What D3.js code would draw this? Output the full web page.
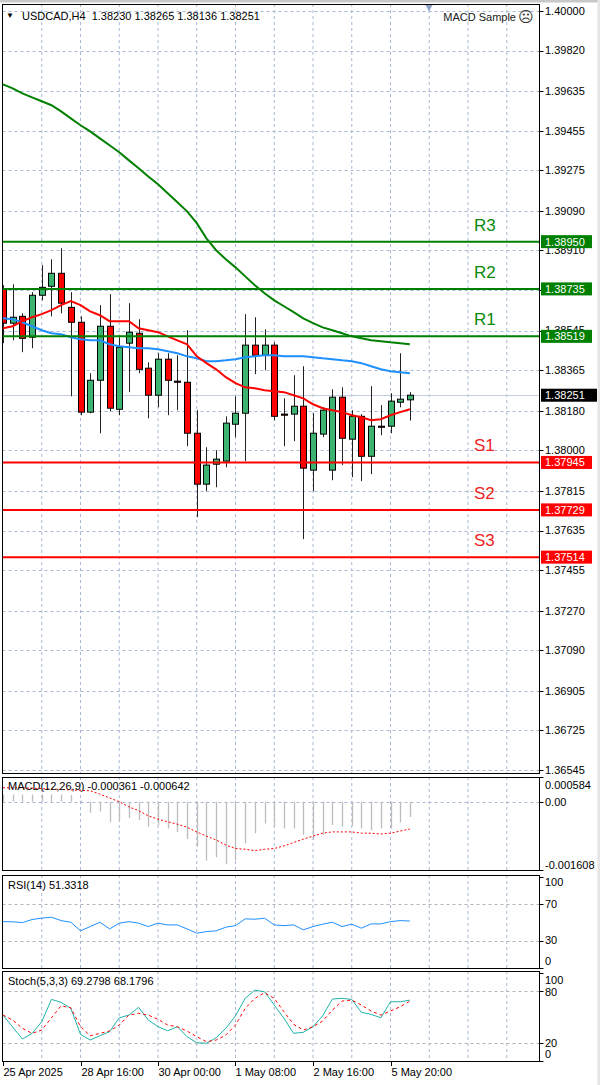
<!DOCTYPE html>
<html><head><meta charset="utf-8">
<script src="https://cdn.jsdelivr.net/npm/d3@7"></script>
<style>
html,body{margin:0;padding:0;background:#fff;}
svg{display:block;}
text{font-family:"Liberation Sans",Arial,sans-serif;}
</style></head><body>
<svg id="c" width="600" height="1085"></svg>
<script>
// ---------- DATA ----------
const symbolTitle = "USDCAD,H4  1.38230 1.38265 1.38136 1.38251";
const expertName = "MACD Sample";
const dateLabels = ["25 Apr 2025","28 Apr 16:00","30 Apr 00:00","1 May 08:00","2 May 16:00","5 May 20:00"];
const dateLabelIdx = [0,8,16,24,32,40];
const priceTicks = [1.40000,1.39820,1.39635,1.39455,1.39275,1.39090,1.38910,1.38730,1.38545,1.38365,1.38180,1.38000,1.37815,1.37635,1.37455,1.37270,1.37090,1.36905,1.36725,1.36545];
const lastPrice = 1.38251;
const levelNames = ["R3","R2","R1","S1","S2","S3"];
const levelValues = [1.38950,1.38735,1.38519,1.37945,1.37729,1.37514];
const levelKinds = ["r","r","r","s","s","s"];

const opens  = [1.38733,1.38579,1.38610,1.38515,1.38706,1.38747,1.38806,1.38651,1.38583,1.38174,1.38319,1.38565,1.38187,1.38488,1.38533,1.38374,1.38251,1.38415,1.38315,1.38310,1.38078,1.37846,1.37937,1.37951,1.38119,1.38169,1.38479,1.38433,1.38479,1.38165,1.38165,1.38201,1.37910,1.38074,1.37910,1.38242,1.38051,1.38155,1.37973,1.38110,1.38110,1.38219,1.38230];
const highs  = [1.38752,1.38756,1.38624,1.38720,1.38843,1.38870,1.38920,1.38720,1.38610,1.38351,1.38661,1.38711,1.38515,1.38670,1.38597,1.38401,1.38442,1.38442,1.38433,1.38547,1.38183,1.38014,1.38001,1.38155,1.38246,1.38620,1.38606,1.38551,1.38492,1.38237,1.38342,1.38383,1.38169,1.38196,1.38278,1.38287,1.38183,1.38165,1.38292,1.38206,1.38260,1.38442,1.38265];
const lows   = [1.38488,1.38501,1.38447,1.38465,1.38683,1.38610,1.38624,1.38246,1.38160,1.38169,1.38078,1.38178,1.38160,1.38265,1.38351,1.38146,1.38196,1.38160,1.38183,1.38019,1.37696,1.37814,1.37832,1.37923,1.38060,1.37951,1.38347,1.38365,1.38137,1.38019,1.38042,1.37596,1.37814,1.38060,1.37864,1.37933,1.37878,1.37860,1.37892,1.38069,1.38078,1.38196,1.38136];
const closes = [1.38579,1.38606,1.38510,1.38706,1.38742,1.38806,1.38670,1.38583,1.38174,1.38319,1.38565,1.38192,1.38469,1.38538,1.38369,1.38251,1.38415,1.38319,1.38310,1.38078,1.37846,1.37933,1.37960,1.38124,1.38169,1.38479,1.38433,1.38479,1.38155,1.38160,1.38201,1.37919,1.38078,1.38183,1.38242,1.38055,1.38155,1.37973,1.38110,1.38105,1.38224,1.38233,1.38251];

const maSlow = [1.39666,1.39648,1.39625,1.39607,1.39589,1.39571,1.39543,1.39511,1.39480,1.39452,1.39420,1.39389,1.39357,1.39320,1.39284,1.39247,1.39211,1.39170,1.39129,1.39088,1.39034,1.38965,1.38911,1.38870,1.38833,1.38792,1.38752,1.38715,1.38683,1.38656,1.38629,1.38601,1.38579,1.38560,1.38547,1.38533,1.38519,1.38510,1.38501,1.38497,1.38492,1.38488,1.38483];
const maMid  = [1.38601,1.38597,1.38583,1.38565,1.38547,1.38533,1.38529,1.38515,1.38506,1.38501,1.38501,1.38483,1.38474,1.38469,1.38465,1.38465,1.38460,1.38451,1.38442,1.38428,1.38419,1.38406,1.38406,1.38410,1.38415,1.38424,1.38428,1.38433,1.38433,1.38428,1.38428,1.38428,1.38424,1.38419,1.38415,1.38410,1.38406,1.38397,1.38383,1.38369,1.38360,1.38356,1.38351];
const maFast = [1.38556,1.38565,1.38588,1.38606,1.38620,1.38638,1.38661,1.38679,1.38661,1.38633,1.38615,1.38588,1.38588,1.38588,1.38556,1.38547,1.38538,1.38519,1.38501,1.38483,1.38428,1.38397,1.38369,1.38333,1.38306,1.38287,1.38283,1.38274,1.38269,1.38265,1.38251,1.38237,1.38210,1.38192,1.38183,1.38174,1.38160,1.38151,1.38137,1.38142,1.38160,1.38174,1.38187];

const macdLabel = "MACD(12,26,9) -0.000361 -0.000642";
const macdTicks = [0.000584, 0.00, -0.001608];
const macdTickText = ["0.000584","0.00","-0.001608"];
const macdHist = [0.00017,0.00017,0.00017,0.00017,0.00017,0.00017,0.00017,0.00016,0.00003,-0.00026,-0.00023,-0.00048,-0.00045,-0.00038,-0.00043,-0.00059,-0.00055,-0.00063,-0.00071,-0.00088,-0.00106,-0.00139,-0.00131,-0.00147,-0.00137,-0.00098,-0.00074,-0.00051,-0.00059,-0.00063,-0.00063,-0.00078,-0.00090,-0.00078,-0.00055,-0.00059,-0.00057,-0.00063,-0.00067,-0.00063,-0.00063,-0.00049,-0.000361];
const macdSignal = [0.00033,0.00033,0.00033,0.00032,0.00031,0.00030,0.00029,0.00028,0.00027,0.00026,0.00018,0.00009,0.0,-0.00012,-0.00021,-0.00033,-0.00041,-0.00047,-0.00053,-0.00060,-0.00071,-0.00081,-0.00090,-0.00102,-0.00110,-0.00112,-0.00115,-0.00112,-0.00110,-0.00104,-0.00096,-0.00088,-0.00081,-0.00074,-0.00071,-0.00071,-0.00071,-0.00074,-0.00074,-0.00076,-0.00074,-0.00069,-0.000642];

const rsiLabel = "RSI(14) 51.3318";
const rsiTicks = [100,70,30,0];
const rsiValues = [50.7,50.5,49.6,53.0,54.5,55.5,51.8,50.0,40.6,45.3,50.0,42.7,49.0,50.7,49.0,45.3,49.0,47.1,47.1,42.7,38.0,39.8,40.6,44.6,46.3,53.7,53.3,54.4,47.1,46.3,47.1,41.7,45.3,47.9,50.0,45.3,47.9,43.5,48.2,48.2,50.7,51.8,51.33];

const stochLabel = "Stoch(5,3,3) 69.2798 68.1796";
const stochTicks = [100,80,20,0];
const stochK = [52.2,38.5,24.9,31.3,44.6,70.1,66.7,59.9,30.2,23.7,28.6,33.2,49.1,52.2,61.0,46.5,38.9,34.3,38.9,27.5,20.6,20.0,26.3,37.1,51.4,71.3,80.7,78.8,63.6,48.5,31.4,32.5,38.9,51.4,70.5,71.3,70.1,55.3,53.0,49.1,67.4,67.4,69.28];
const stochD = [52.2,46.5,37.1,31.3,35.1,49.1,62.8,60.5,38.9,28.6,31.3,34.0,40.8,52.2,54.2,52.2,47.3,40.8,38.9,34.0,27.5,21.8,23.7,29.4,40.8,59.9,71.3,77.7,71.3,56.0,41.6,35.1,38.9,45.4,57.9,68.2,69.3,63.6,56.8,52.2,56.8,61.7,68.18];

// ---------- LAYOUT ----------
const svg = d3.select('#c');
const L = 2.5, R = 539.5;
const panels = {main:[4,773], macd:[777,870], rsi:[875,968], sto:[971,1061]};
const idx = d3.range(opens.length);
const x = d3.scaleLinear().domain([0,42]).range([3, 3+42*9.6875]);
const y = d3.scaleLinear().domain([1.36545,1.40000]).range([770,11]);
const yM = d3.scaleLinear().domain([-0.001608,0.000584]).range([870,777]);
const yR = d3.scaleLinear().domain([0,100]).range([968,876.5]);
const yS = d3.scaleLinear().domain([0,100]).range([1060.8,973.2]);
const gridIdx = d3.range(4, 53, 4);
const GRID = "#a8b8d4";
const FS = 11;

svg.append('rect').attr('x',0).attr('y',0).attr('width',600).attr('height',1085).attr('fill','#fff');
svg.append('rect').attr('x',0).attr('y',0).attr('width',600).attr('height',2.5).attr('fill','#c8c8c8');
svg.append('rect').attr('x',597.5).attr('y',0).attr('width',2.5).attr('height',1085).attr('fill','#e4e4e4');

const defs = svg.append('defs');
Object.entries(panels).forEach(([k,[t,b]])=>{
  defs.append('clipPath').attr('id','clip-'+k).append('rect')
    .attr('x',L).attr('y',t).attr('width',R-L).attr('height',b-t);
});

function vgrid(k){
  const [t,b] = panels[k];
  svg.append('g').selectAll('line').data(gridIdx).join('line')
    .attr('x1',d=>x(d)).attr('x2',d=>x(d)).attr('y1',t).attr('y2',b)
    .attr('stroke',GRID).attr('stroke-width',1).attr('stroke-dasharray','3,3');
}
function hlines(vals, scale, color, dash){
  svg.append('g').selectAll('line').data(vals).join('line')
    .attr('x1',L).attr('x2',R).attr('y1',d=>Math.round(scale(d))+0.5).attr('y2',d=>Math.round(scale(d))+0.5)
    .attr('stroke',color).attr('stroke-width',1).attr('stroke-dasharray',dash||null);
}
function axisLabels(vals, texts, scale, offsets){
  const g = svg.append('g');
  vals.forEach((v,i)=>{
    const yy = scale(v) + (offsets ? offsets[i] : 0);
    g.append('line').attr('x1',R).attr('x2',R+4).attr('y1',Math.round(scale(v))+0.5).attr('y2',Math.round(scale(v))+0.5).attr('stroke','#000');
    g.append('text').attr('x',R+5.5).attr('y',yy).attr('dy','0.35em')
      .attr('font-size',FS).attr('fill','#000').text(texts[i]);
  });
}

// ---------- MAIN PANEL ----------
vgrid('main');
hlines(priceTicks, y, GRID, '3,3');
hlines([lastPrice], y, '#c4cede', null);

const gm = svg.append('g').attr('clip-path','url(#clip-main)');
// candles
const cw = 5;
gm.append('g').selectAll('line').data(idx).join('line')
  .attr('x1',i=>Math.round(x(i))+0.5).attr('x2',i=>Math.round(x(i))+0.5)
  .attr('y1',i=>y(highs[i])).attr('y2',i=>y(lows[i]))
  .attr('stroke','#222').attr('stroke-width',1);
gm.append('g').selectAll('rect').data(idx).join('rect')
  .attr('x',i=>Math.round(x(i))+0.5-cw/2-0.5)
  .attr('y',i=>y(Math.max(opens[i],closes[i])))
  .attr('width',cw+1)
  .attr('height',i=>Math.max(1, Math.abs(y(opens[i])-y(closes[i]))))
  .attr('fill',i=>closes[i]>=opens[i] ? '#3cb371' : '#ff0000')
  .attr('stroke','#000').attr('stroke-width',1);

// moving averages
const line = (arr, sc)=> d3.line().x(i=>x(i)).y(i=>sc(arr[i]))(idx);
gm.append('path').attr('d',line(maSlow,y)).attr('fill','none').attr('stroke','#008000').attr('stroke-width',2);
gm.append('path').attr('d',line(maMid,y)).attr('fill','none').attr('stroke','#1e90ff').attr('stroke-width',2);
gm.append('path').attr('d',line(maFast,y)).attr('fill','none').attr('stroke','#ff0000').attr('stroke-width',2);

// support / resistance levels
levelValues.forEach((v,i)=>{
  const col = levelKinds[i]==='r' ? '#008000' : '#ff0000';
  gm.append('line').attr('x1',L).attr('x2',R).attr('y1',y(v)).attr('y2',y(v))
    .attr('stroke',col).attr('stroke-width',2);
  svg.append('text').attr('x',474).attr('y',y(v)-11)
    .attr('font-size',17).attr('fill',levelKinds[i]==='r' ? '#0a8a0a' : '#ee2222').text(levelNames[i]);
});

// header
svg.append('text').attr('x',6).attr('y',18).attr('font-size',8).attr('fill','#000').text('▼');
svg.append('text').attr('x',22).attr('y',20).attr('font-size',FS).attr('fill','#000').attr('xml:space','preserve').text(symbolTitle);
svg.append('text').attr('x',516).attr('y',21).attr('text-anchor','end').attr('font-size',FS).attr('fill','#1a1a1a').text(expertName);
svg.append('text').attr('x',518).attr('y',22).attr('font-size',15).attr('font-family','DejaVu Sans').attr('fill','#333').text('☹');
svg.append('path').attr('d',d3.symbol().type(d3.symbolTriangle).size(30)()).attr('transform','translate(429,6.5) rotate(180)').attr('fill','#8ea2c4');

// right axis labels
axisLabels(priceTicks, priceTicks.map(d=>d.toFixed(5)), y);
// level boxes
levelValues.forEach((v,i)=>{
  const col = levelKinds[i]==='r' ? '#008000' : '#ff0000';
  svg.append('rect').attr('x',541).attr('y',y(v)-6.5).attr('width',51).attr('height',13).attr('fill',col);
  svg.append('text').attr('x',545).attr('y',y(v)).attr('dy','0.35em').attr('font-size',FS).attr('fill','#fff').text(v.toFixed(5));
});
svg.append('rect').attr('x',541).attr('y',y(lastPrice)-6.5).attr('width',56).attr('height',13).attr('fill','#000');
svg.append('text').attr('x',545).attr('y',y(lastPrice)).attr('dy','0.35em').attr('font-size',FS).attr('fill','#fff').text(lastPrice.toFixed(5));

// ---------- MACD ----------
vgrid('macd');
hlines([0], yM, GRID, '3,3');
const gM = svg.append('g').attr('clip-path','url(#clip-macd)');
gM.append('g').selectAll('line').data(idx).join('line')
  .attr('x1',i=>Math.round(x(i))+0.5).attr('x2',i=>Math.round(x(i))+0.5)
  .attr('y1',yM(0)).attr('y2',i=>yM(macdHist[i]))
  .attr('stroke','#bdbdbd').attr('stroke-width',1.3);
gM.append('path').attr('d',line(macdSignal,yM)).attr('fill','none').attr('stroke','#ff0000').attr('stroke-width',1).attr('stroke-dasharray','2,2');
svg.append('text').attr('x',8).attr('y',790).attr('font-size',FS).attr('fill','#000').text(macdLabel);
axisLabels(macdTicks, macdTickText, yM, [8,0,-5]);

// ---------- RSI ----------
vgrid('rsi');
hlines([70,30], yR, '#b4b4b4', '3,3');
const gR = svg.append('g').attr('clip-path','url(#clip-rsi)');
gR.append('path').attr('d',line(rsiValues,yR)).attr('fill','none').attr('stroke','#1e90ff').attr('stroke-width',1);
svg.append('text').attr('x',8).attr('y',889).attr('font-size',FS).attr('fill','#000').text(rsiLabel);
axisLabels(rsiTicks, rsiTicks.map(String), yR, [6,0,0,-7]);

// ---------- STOCH ----------
vgrid('sto');
hlines([80,20], yS, '#b4b4b4', '3,3');
const gS = svg.append('g').attr('clip-path','url(#clip-sto)');
gS.append('path').attr('d',line(stochK,yS)).attr('fill','none').attr('stroke','#20b2aa').attr('stroke-width',1);
gS.append('path').attr('d',line(stochD,yS)).attr('fill','none').attr('stroke','#ff0000').attr('stroke-width',1).attr('stroke-dasharray','3,3');
svg.append('text').attr('x',8).attr('y',985).attr('font-size',FS).attr('fill','#000').text(stochLabel);
axisLabels(stochTicks, stochTicks.map(String), yS, [7,1,0,-7]);

// ---------- panel frames ----------
Object.values(panels).forEach(([t,b])=>{
  svg.append('rect').attr('x',L).attr('y',t+0.5).attr('width',R-L).attr('height',b-t)
    .attr('fill','none').attr('stroke','#000').attr('stroke-width',1);
});

// ---------- time axis ----------
const gx = svg.append('g');
dateLabelIdx.forEach((d,i)=>{
  const xx = Math.round(x(d))+0.5;
  gx.append('line').attr('x1',xx).attr('x2',xx).attr('y1',1061).attr('y2',1066).attr('stroke','#000');
  gx.append('text').attr('x',xx).attr('y',1076).attr('font-size',FS).attr('fill','#000').text(dateLabels[i]);
});
</script>
</body></html>
